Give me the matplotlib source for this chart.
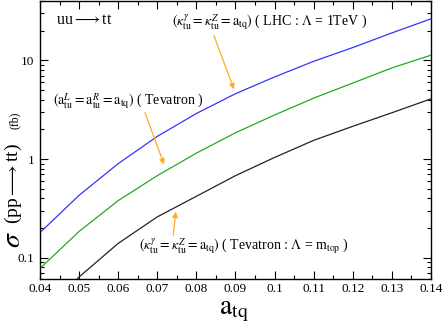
import matplotlib
matplotlib.use("Agg")
import matplotlib.pyplot as plt
from matplotlib.ticker import FixedLocator, NullFormatter, MultipleLocator, LogLocator

plt.rcParams['font.family'] = ['Liberation Serif', 'DejaVu Serif']
plt.rcParams['mathtext.fontset'] = 'stix'

a_tq = [0.04, 0.05, 0.06, 0.07, 0.08, 0.09, 0.10, 0.11, 0.12, 0.13, 0.14]
sigma_lhc = [0.18, 0.43, 0.90, 1.70, 2.90, 4.60, 6.80, 9.80, 13.5, 19.0, 26.4]
sigma_tev_a = [0.078, 0.185, 0.38, 0.68, 1.15, 1.85, 2.80, 4.15, 5.9, 8.4, 11.3]
sigma_tev_k = [0.026, 0.064, 0.14, 0.26, 0.42, 0.68, 1.04, 1.55, 2.15, 2.95, 4.08]
xtick_labels = ['0.04', '0.05', '0.06', '0.07', '0.08', '0.09', '0.1', '0.11', '0.12', '0.13', '0.14']

W, H = 442, 327
fig = plt.figure(figsize=(W/100, H/100), dpi=100)
L, R, T, B = 40, 431, 1, 279
ax = fig.add_axes([L/W, 1-B/H, (R-L)/W, (B-T)/H])

ax.plot(a_tq, sigma_lhc, color='#3333ff', lw=0.9)
ax.plot(a_tq, sigma_tev_a, color='#22aa22', lw=0.9)
ax.plot(a_tq, sigma_tev_k, color='#222222', lw=0.9)

ax.set_yscale('log')
ax.set_xlim(0.04, 0.14)
ax.set_ylim(0.061, 40)

ax.xaxis.set_minor_locator(MultipleLocator(0.005))
ax.set_xticks(a_tq)
ax.set_xticklabels(xtick_labels)
ax.yaxis.set_major_locator(FixedLocator([0.1, 1, 10]))
ax.set_yticklabels(['0.1', '1', '10'])
ax.yaxis.set_minor_locator(LogLocator(base=10, subs=range(2, 10)))
ax.yaxis.set_minor_formatter(NullFormatter())

ax.tick_params(which='both', direction='in', top=True, right=True, labelsize=9.5, width=0.8)
ax.tick_params(which='major', length=6)
ax.tick_params(axis='x', which='major', pad=3)
ax.tick_params(axis='y', which='major', pad=4)
ax.tick_params(which='minor', length=3)
for s in ax.spines.values():
    s.set_linewidth(1.0)

def fx(px):
    return px / W
def fy(py):
    return 1 - py / H

fs = 10
fig.text(fx(56), fy(20), r'uu$\longrightarrow$tt', fontsize=11.5, va='center', ha='left')
fig.text(fx(172), fy(23), r'$(\kappa^{\gamma}_{\mathrm{tu}} = \kappa^{Z}_{\mathrm{tu}} = \mathrm{a}_{\mathrm{tq}})$ ( LHC : $\Lambda$ = 1TeV )',
         fontsize=fs, va='center', ha='left')
fig.text(fx(53), fy(102), r'$(\mathrm{a}^{L}_{\mathrm{tu}} = \mathrm{a}^{R}_{\mathrm{tu}} = \mathrm{a}_{\mathrm{tq}})$ ( Tevatron )',
         fontsize=fs, va='center', ha='left')
fig.text(fx(139), fy(247), r'$(\kappa^{\gamma}_{\mathrm{tu}} = \kappa^{Z}_{\mathrm{tu}} = \mathrm{a}_{\mathrm{tq}})$ ( Tevatron : $\Lambda$ = m$_{\mathrm{top}}$ )',
         fontsize=fs, va='center', ha='left')

orange = '#ffaa22'
def arrow(x0, y0, x1, y1):
    fig.add_artist(matplotlib.patches.FancyArrowPatch(
        (fx(x0), fy(y0)), (fx(x1), fy(y1)), transform=fig.transFigure,
        arrowstyle='-|>', mutation_scale=8, color=orange, lw=0.9))

arrow(213, 33, 235, 92)
arrow(144, 110, 165, 167)
arrow(173, 238, 176, 209)

# y label pieces
fig.text(fx(14), fy(240), r'$\sigma$', fontsize=20, rotation=90, va='center', ha='center')
fig.text(fx(13), fy(184), r'(pp$\longrightarrow$tt)', fontsize=14, rotation=90, va='center', ha='center')
fig.text(fx(15), fy(120), '(fb)', fontsize=8.5, rotation=90, va='center', ha='center')

# x label
fig.text(fx(219), fy(314), r'$\mathrm{a}_{\mathrm{tq}}$', fontsize=20, va='baseline', ha='left')

fig.savefig('out.png', dpi=100)
